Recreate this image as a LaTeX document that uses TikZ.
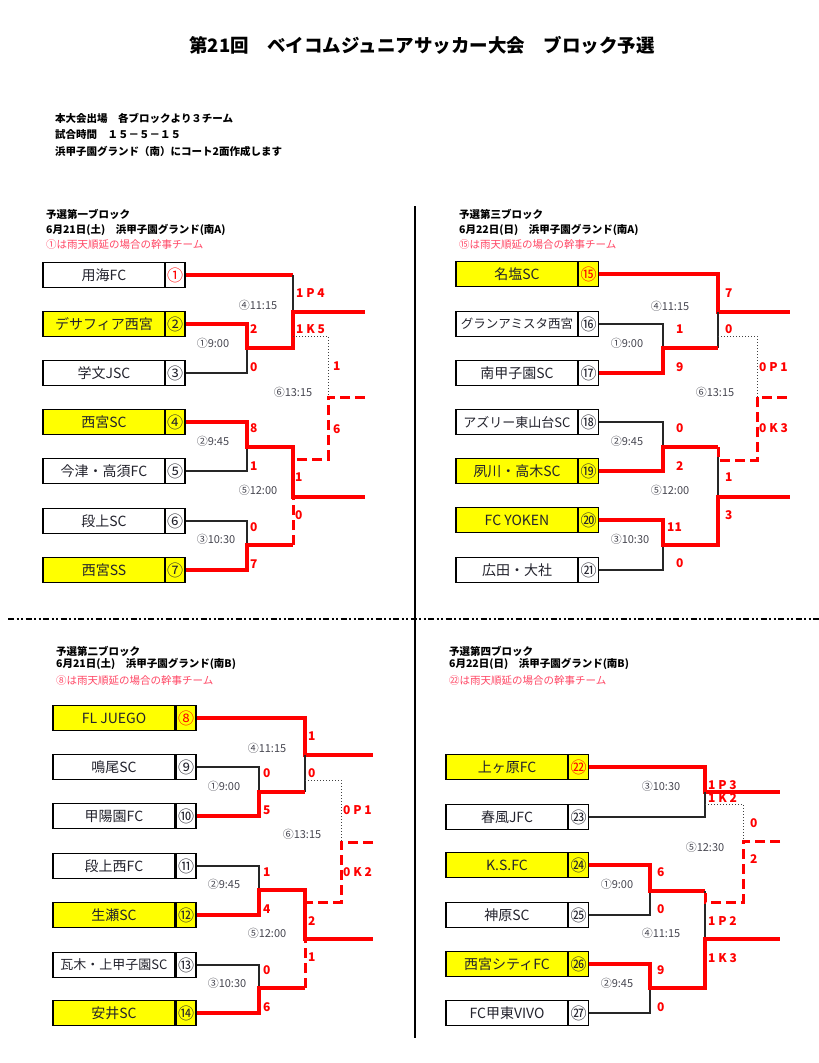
\documentclass[tikz,border=0pt]{standalone}
\usepackage{fontspec}
\setmainfont{Noto Sans CJK JP}
\begin{document}
\definecolor{txt}{RGB}{35,35,45}
\definecolor{pink}{RGB}{255,70,100}
\definecolor{tmc}{RGB}{70,70,80}
\definecolor{yel}{RGB}{255,255,0}
\tikzset{
 nm/.style={draw=black, line width=1.2pt, minimum width=122pt, minimum height=25pt, inner sep=0pt, text=txt},
 nb/.style={draw=black, line width=1.2pt, minimum width=20pt, minimum height=25pt, inner sep=0pt, font=\fontsize{16}{16}\selectfont, text=txt},
 win/.style={red, line width=4pt, line join=miter},
 lose/.style={black!85, line width=1.2pt},
 dotln/.style={black!75, line width=1pt, dotted},
 dsh/.style={red, line width=3pt, dash pattern=on 10pt off 5pt},
 sc/.style={text=red, font=\bfseries\fontsize{12}{12}\selectfont, anchor=west, inner sep=0pt},
 tm/.style={text=tmc, font=\fontsize{11}{11}\selectfont, inner sep=0pt},
 hd/.style={anchor=west, inner sep=0pt, font=\bfseries\fontsize{10.5}{10.5}\selectfont},
 hr/.style={anchor=west, inner sep=0pt, text=pink, font=\fontsize{10.5}{10.5}\selectfont},
}
\begin{tikzpicture}[x=1pt,y=-1pt]
\useasboundingbox (0,0) rectangle (819,1063);
% title and notes
\node[font=\bfseries\fontsize{18.5}{18.5}\selectfont] (title) at (422,45) {第21回　ベイコムジュニアサッカー大会　ブロック予選};
\node[hd] (note1) at (55,118) {本大会出場　各ブロックより３チーム};
\node[hd] (note2) at (55,135) {試合時間　１５－５－１５};
\node[hd] (note3) at (55,151) {浜甲子園グランド（南）にコート2面作成します};
% dividers
\draw[line width=2pt] (415,206) coordinate (vt) -- (415,1038) coordinate (vb);
\draw[line width=2pt, dash pattern=on 6pt off 2.5pt on 2pt off 2.5pt on 2pt off 2.5pt] (8,619) coordinate (hl1) -- (819,619) coordinate (hl2);

% ================= Block 1 =================
\node[hd] (h1a) at (46,214) {予選第一ブロック};
\node[hd] (h1b) at (46,230) {6月21日(土)　浜甲子園グランド(南A)};
\node[hr] (h1c) at (46,245) {①は雨天順延の場合の幹事チーム};
\foreach \i/\y/\t/\c/\f/\r/\s in {1/275/用海FC/①/white/red/14,2/324/デサフィア西宮/②/yel/txt/14,3/373/学文JSC/③/white/txt/14,4/422/西宮SC/④/yel/txt/14,5/471/今津・高須FC/⑤/white/txt/14,6/521/段上SC/⑥/white/txt/14,7/570/西宮SS/⑦/yel/txt/14}{
 \node[nm, fill=\f, font=\fontsize{\s}{\s}\selectfont] (t\i) at (104,\y) {\t};
 \node[nb, fill=\f, text=\r] (n\i) at (175,\y) {\c};
}
\draw[win] (n1.east) -- (293,275) coordinate (a4t);
\draw[lose] (a4t) -- (293,312) coordinate (a4m);
\draw[lose] (n3.east) -| (247,348) coordinate (a1m);
\draw[win] (n2.east) -| (a1m) -- (293,348) -- (a4m) -- (365,312) coordinate (a4o);
\draw[dotln] (293,336) coordinate (a6s) -- (328,336) -- (328,397) coordinate (a6m);
\draw[dsh] (365,397) coordinate (a6o) -- (a6m) -- (328,459) -- (296,459) coordinate (a6b);
\draw[lose] (n5.east) -| (247,447) coordinate (a2m);
\draw[win] (n4.east) -| (a2m) -- (293,447) -- (293,497) coordinate (a5m) -- (365,497) coordinate (a5o);
\draw[lose] (n6.east) -| (247,545) coordinate (a3m);
\draw[win] (n7.east) -| (a3m) -- (293,545) coordinate (a3o);
\draw[dsh] (a3o) -- (a5m);
\node[sc] (s1a) at (250,329) {2};
\node[sc] (s1b) at (250,367) {0};
\node[sc] (s1c) at (296,293) {1 P 4};
\node[sc] (s1d) at (296,329) {1 K 5};
\node[sc] (s1e) at (333,366) {1};
\node[sc] (s1f) at (333,429) {6};
\node[sc] (s1g) at (250,428) {8};
\node[sc] (s1h) at (250,466) {1};
\node[sc] (s1i) at (295,477) {1};
\node[sc] (s1j) at (295,515) {0};
\node[sc] (s1k) at (250,527) {0};
\node[sc] (s1l) at (250,564) {7};
\node[tm] (m1a) at (258,305) {④11:15};
\node[tm] (m1b) at (213,343) {①9:00};
\node[tm] (m1c) at (293,392) {⑥13:15};
\node[tm] (m1d) at (213,441) {②9:45};
\node[tm] (m1e) at (258,490) {⑤12:00};
\node[tm] (m1f) at (216,539) {③10:30};

% ================= Block 3 =================
\node[hd] (h3a) at (459,214) {予選第三ブロック};
\node[hd] (h3b) at (459,230) {6月22日(日)　浜甲子園グランド(南A)};
\node[hr] (h3c) at (459,245) {⑮は雨天順延の場合の幹事チーム};
\foreach \i/\y/\t/\c/\f/\r/\s in {15/274/名塩SC/⑮/yel/red/14,16/324/グランアミスタ西宮/⑯/white/txt/12.5,17/373/南甲子園SC/⑰/white/txt/14,18/422/アズリー東山台SC/⑱/white/txt/13,19/471/夙川・高木SC/⑲/yel/txt/14,20/520/FC YOKEN/⑳/yel/txt/14,21/570/広田・大社/㉑/white/txt/14}{
 \node[nm, fill=\f, font=\fontsize{\s}{\s}\selectfont] (t\i) at (517,\y) {\t};
 \node[nb, fill=\f, text=\r] (n\i) at (588.5,\y) {\c};
}
\draw[win] (n15.east) -- (718,274) -- (718,312) coordinate (c4m) -- (790,312) coordinate (c4o);
\draw[lose] (c4m) -- (718,348) coordinate (c4b);
\draw[lose] (n16.east) -| (663,348) coordinate (c1m);
\draw[win] (n17.east) -| (c1m) -- (c4b);
\draw[dotln] (718,336) -- (757,336) -- (757,397) coordinate (c6m);
\draw[lose] (n18.east) -| (663,447) coordinate (c2m);
\draw[lose] (718,447) coordinate (c5t) -- (718,497) coordinate (c5m);
\draw[win] (n19.east) -| (c2m) -- (c5t);
\draw[dsh] (c5t) -- (718,460) -- (757,460) -- (c6m) -- (790,397) coordinate (c6o);
\draw[lose] (n21.east) -| (663,545) coordinate (c3m);
\draw[win] (n20.east) -| (c3m) -- (718,545) -- (c5m) -- (790,497) coordinate (c5o);
\node[sc] (s3a) at (725,293) {7};
\node[sc] (s3b) at (725,329) {0};
\node[sc] (s3c) at (676,329) {1};
\node[sc] (s3d) at (676,367) {9};
\node[sc] (s3e) at (759,367) {0 P 1};
\node[sc] (s3f) at (676,428) {0};
\node[sc] (s3g) at (676,466) {2};
\node[sc] (s3h) at (759,428) {0 K 3};
\node[sc] (s3i) at (725,477) {1};
\node[sc] (s3j) at (725,515) {3};
\node[sc] (s3k) at (667,527) {11};
\node[sc] (s3l) at (676,563) {0};
\node[tm] (m3a) at (670,306) {④11:15};
\node[tm] (m3b) at (627,343) {①9:00};
\node[tm] (m3c) at (715,392) {⑥13:15};
\node[tm] (m3d) at (627,441) {②9:45};
\node[tm] (m3e) at (670,490) {⑤12:00};
\node[tm] (m3f) at (630,539) {③10:30};

% ================= Block 2 =================
\node[hd] (h2a) at (56,651) {予選第二ブロック};
\node[hd] (h2b) at (56,664) {6月21日(土)　浜甲子園グランド(南B)};
\node[hr] (h2c) at (56,681) {⑧は雨天順延の場合の幹事チーム};
\foreach \i/\y/\t/\c/\f/\r/\s in {8/718/FL JUEGO/⑧/yel/red/14,9/767/鳴尾SC/⑨/white/txt/14,10/816/甲陽園FC/⑩/white/txt/14,11/866/段上西FC/⑪/white/txt/14,12/915/生瀬SC/⑫/yel/txt/14,13/965/瓦木・上甲子園SC/⑬/white/txt/13,14/1013/安井SC/⑭/yel/txt/14}{
 \node[nm, fill=\f, font=\fontsize{\s}{\s}\selectfont] (t\i) at (114,\y) {\t};
 \node[nb, fill=\f, text=\r] (n\i) at (186,\y) {\c};
}
\draw[win] (n8.east) -- (305,718) -- (305,755) coordinate (b4m) -- (373,755) coordinate (b4o);
\draw[lose] (b4m) -- (305,792) coordinate (b4b);
\draw[lose] (n9.east) -| (259,792) coordinate (b1m);
\draw[win] (n10.east) -| (b1m) -- (b4b);
\draw[dotln] (305,780) -- (341,780) -- (341,842) coordinate (b6m);
\draw[dsh] (373,842) coordinate (b6o) -- (b6m) -- (341,902) -- (305,902);
\draw[lose] (n11.east) -| (259,890) coordinate (b2m);
\draw[win] (n12.east) -| (b2m) -- (305,890) -- (305,939) coordinate (b5m) -- (373,939) coordinate (b5o);
\draw[lose] (n13.east) -| (259,988) coordinate (b3m);
\draw[win] (n14.east) -| (b3m) -- (305,988) coordinate (b3o);
\draw[dsh] (b3o) -- (b5m);
\node[sc] (s2a) at (308,736) {1};
\node[sc] (s2b) at (308,773) {0};
\node[sc] (s2c) at (263,773) {0};
\node[sc] (s2d) at (263,810) {5};
\node[sc] (s2e) at (343,810) {0 P 1};
\node[sc] (s2f) at (343,872) {0 K 2};
\node[sc] (s2g) at (263,872) {1};
\node[sc] (s2h) at (263,909) {4};
\node[sc] (s2i) at (308,921) {2};
\node[sc] (s2j) at (308,957) {1};
\node[sc] (s2k) at (263,970) {0};
\node[sc] (s2l) at (263,1007) {6};
\node[tm] (m2a) at (267,748) {④11:15};
\node[tm] (m2b) at (224,786) {①9:00};
\node[tm] (m2c) at (302,834) {⑥13:15};
\node[tm] (m2d) at (224,884) {②9:45};
\node[tm] (m2e) at (267,933) {⑤12:00};
\node[tm] (m2f) at (227,983) {③10:30};

% ================= Block 4 =================
\node[hd] (h4a) at (449,651) {予選第四ブロック};
\node[hd] (h4b) at (449,664) {6月22日(日)　浜甲子園グランド(南B)};
\node[hr] (h4c) at (449,681) {㉒は雨天順延の場合の幹事チーム};
\foreach \i/\y/\t/\c/\f/\r/\s in {22/767/上ヶ原FC/㉒/yel/red/14,23/817/春風JFC/㉓/white/txt/14,24/865/K.S.FC/㉔/yel/txt/14,25/915/神原SC/㉕/white/txt/14,26/964/西宮シティFC/㉖/yel/txt/14,27/1013/FC甲東VIVO/㉗/white/txt/14}{
 \node[nm, fill=\f, font=\fontsize{\s}{\s}\selectfont] (t\i) at (507,\y) {\t};
 \node[nb, fill=\f, text=\r] (n\i) at (578.5,\y) {\c};
}
\draw[win] (n22.east) -- (705,767) -- (705,792) coordinate (d3m) -- (780,792) coordinate (d3o);
\draw[lose] (n23.east) -| (d3m);
\draw[dotln] (705,804) -- (743,804) -- (743,841) coordinate (d5m);
\draw[lose] (n25.east) -| (650,891) coordinate (d1m);
\draw[win] (n24.east) -| (d1m) -- (705,891) coordinate (d4t);
\draw[lose] (d4t) -- (705,939) coordinate (d4m);
\draw[dsh] (780,841) coordinate (d5o) -- (d5m) -- (743,902) -- (705,902) -- (d4t);
\draw[lose] (n27.east) -| (650,988) coordinate (d2m);
\draw[win] (n26.east) -| (d2m) -- (705,988) -- (d4m) -- (780,939) coordinate (d4o);
\node[sc] (s4a) at (708,785) {1 P 3};
\node[sc] (s4b) at (708,798) {1 K 2};
\node[sc] (s4c) at (750,823) {0};
\node[sc] (s4d) at (750,859) {2};
\node[sc] (s4e) at (657,872) {6};
\node[sc] (s4f) at (657,909) {0};
\node[sc] (s4g) at (708,921) {1 P 2};
\node[sc] (s4h) at (708,958) {1 K 3};
\node[sc] (s4i) at (657,970) {9};
\node[sc] (s4j) at (657,1007) {0};
\node[tm] (m4a) at (661,786) {③10:30};
\node[tm] (m4b) at (705,847) {⑤12:30};
\node[tm] (m4c) at (617,884) {①9:00};
\node[tm] (m4d) at (661,933) {④11:15};
\node[tm] (m4e) at (617,983) {②9:45};
\end{tikzpicture}
\end{document}
